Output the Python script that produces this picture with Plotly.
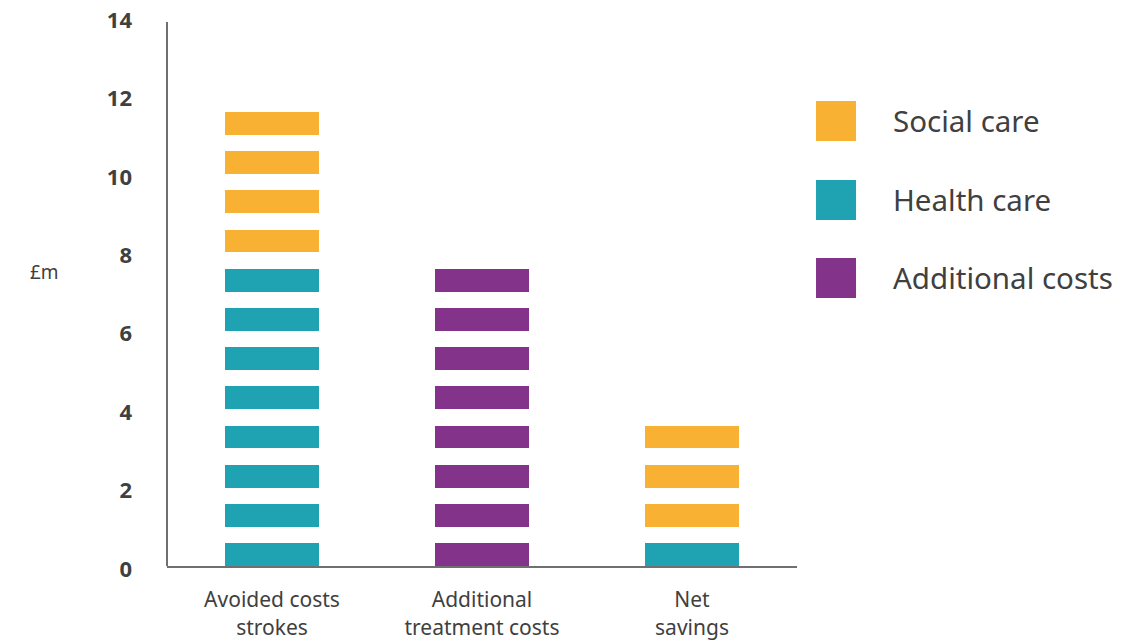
import plotly.graph_objects as go

# ---- data ----
categories = ["Avoided costs<br>strokes", "Additional<br>treatment costs", "Net<br>savings"]
series_names = ["Health care", "Additional costs", "Social care"]   # stacking order (bottom -> top)
health_care = [8, 0, 1]
additional_costs = [0, 8, 0]
social_care = [4, 0, 3]
legend_order = ["Social care", "Health care", "Additional costs"]
y_ticks = [0, 2, 4, 6, 8, 10, 12, 14]

colors = {"Social care": "#F8B133", "Health care": "#1FA2B2", "Additional costs": "#83338A"}
values = {"Health care": health_care, "Additional costs": additional_costs, "Social care": social_care}

SEG = 0.58   # visible part of each 1-unit block
FONT = "Noto Sans"
TXT = "#404040"
AXIS = "#707070"

fig = go.Figure()
offsets = [0] * len(categories)
for name in series_names:
    xs, bases = [], []
    for i, cat in enumerate(categories):
        for k in range(values[name][i]):
            xs.append(cat)
            bases.append(offsets[i] + k)
        offsets[i] += values[name][i]
    fig.add_trace(go.Bar(
        x=xs, y=[SEG] * len(xs), base=bases, name=name,
        marker=dict(color=colors[name], line=dict(width=0)),
        width=0.45, showlegend=False, hoverinfo="skip",
    ))

# manual legend (big squares)
leg_y = [0.8106, 0.6667, 0.5246]
for name, yy in zip(legend_order, leg_y):
    fig.add_shape(type="rect", xref="paper", yref="paper",
                  x0=1.0302, x1=1.0937, y0=yy - 0.0364, y1=yy + 0.0364,
                  fillcolor=colors[name], line=dict(width=0))
    fig.add_annotation(xref="paper", yref="paper", x=1.149, y=yy, text=name,
                       showarrow=False, xanchor="left", yanchor="middle",
                       font=dict(family=FONT, size=29.5, color=TXT))

fig.add_annotation(xref="paper", yref="paper", x=-0.195, y=0.536, text="£m",
                   showarrow=False, xanchor="center", yanchor="middle",
                   font=dict(family=FONT, size=19, color=TXT))

# vertical axis line (slightly shorter than the top tick, as in the original)
fig.add_shape(type="line", xref="paper", yref="y", x0=0, x1=0, y0=0, y1=13.87,
              line=dict(color=AXIS, width=2))

fig.update_layout(
    width=1135, height=643,
    margin=dict(l=167, r=338, t=17, b=77, autoexpand=False),
    paper_bgcolor="white", plot_bgcolor="white",
    barmode="overlay", bargap=0,
    showlegend=False,
)
fig.update_xaxes(
    categoryorder="array", categoryarray=categories, range=[-0.5, 2.5],
    showline=True, linecolor=AXIS, linewidth=2, automargin=False,
    showgrid=False, zeroline=False, ticks="", ticklabelstandoff=14,
    tickfont=dict(family=FONT, size=21, color=TXT),
)
fig.update_yaxes(
    range=[0, 14], tickvals=y_ticks, showline=False,
    showgrid=False, zeroline=False, ticks="", ticklabelstandoff=34,
    ticklabelshift=3, ticklabeloverflow="allow",
    automargin=False,
    tickfont=dict(family=FONT, size=22, color=TXT, weight="bold"),
)

fig.write_html("out.html")
